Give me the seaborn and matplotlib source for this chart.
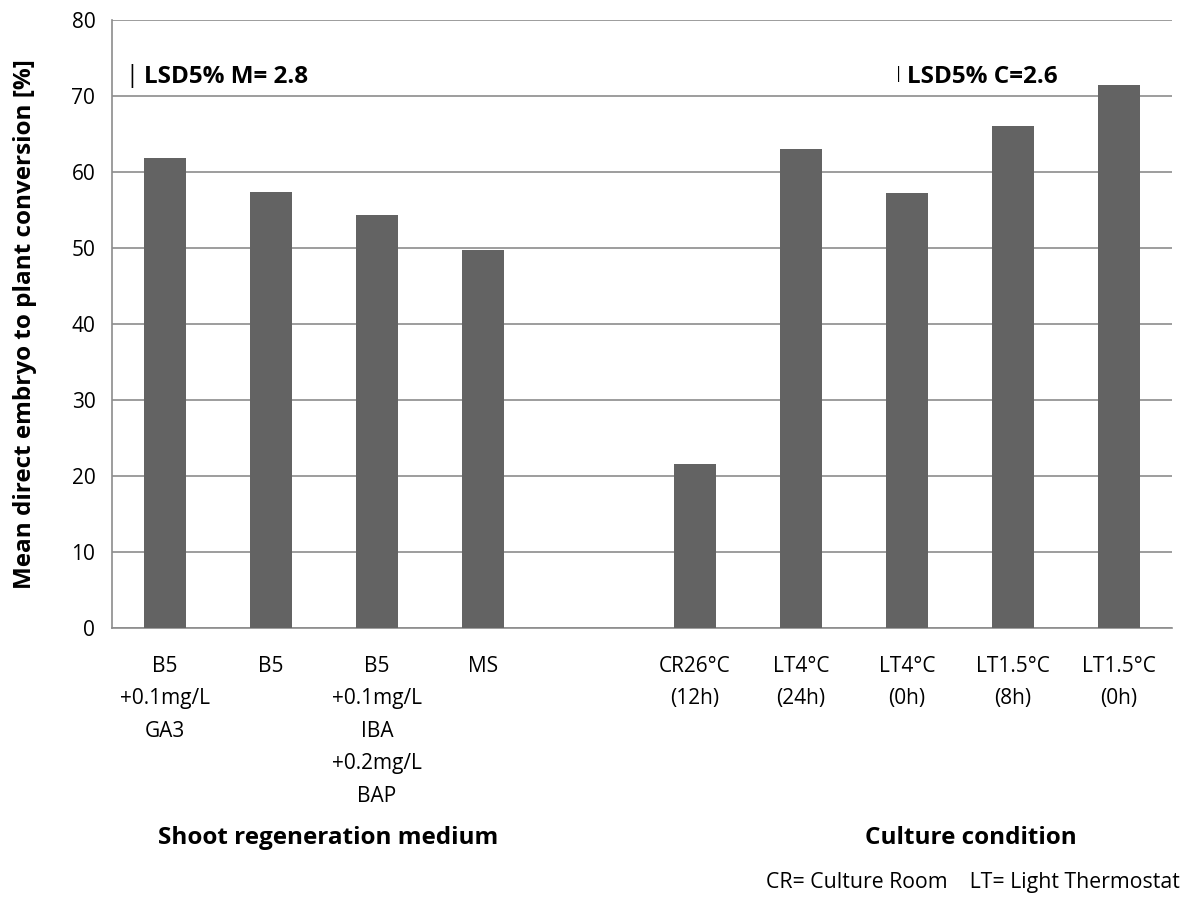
import matplotlib
matplotlib.use("Agg")
import matplotlib.pyplot as plt
import seaborn as sns
import pandas as pd

categories = ["B5\n+0.1mg/L\nGA3", "B5", "B5\n+0.1mg/L\nIBA\n+0.2mg/L\nBAP", "MS", " ",
              "CR26°C\n(12h)", "LT4°C\n(24h)", "LT4°C\n(0h)", "LT1.5°C\n(8h)", "LT1.5°C\n(0h)"]
values = [61.9, 57.4, 54.3, 49.7, None, 21.6, 63.0, 57.3, 66.0, 71.4]
y_ticks = [0, 10, 20, 30, 40, 50, 60, 70, 80]
lsd_labels = ["LSD5% M= 2.8", "LSD5% C=2.6"]
group_labels = ["Shoot regeneration medium", "Culture condition"]
footer = "CR= Culture Room    LT= Light Thermostat"

df = pd.DataFrame({"treatment": categories, "conversion": values})

sns.set_style("white")
plt.rcParams["font.family"] = ["Open Sans", "DejaVu Sans"]
plt.rcParams["text.color"] = "black"

fig = plt.figure(figsize=(11.92, 8.97), dpi=100)
ax = fig.add_axes([112 / 1192, 1 - 628 / 897, 1060 / 1192, 608 / 897])

sns.barplot(data=df, x="treatment", y="conversion", order=categories,
            color="#636363", saturation=1, width=0.40, linewidth=0, ax=ax, zorder=3)

ax.set_ylim(0, 80)
ax.set_xlim(-0.5, len(categories) - 0.5)
ax.set_yticks(y_ticks)
ax.tick_params(axis="y", labelsize=15, length=7, color="#8c8c8c", pad=5, labelcolor="black")
ax.tick_params(axis="x", labelsize=15, length=0, pad=20, labelcolor="black")
ax.yaxis.grid(True, color="#8c8c8c", linewidth=1.2, zorder=0)
ax.set_axisbelow(True)
for s in ["top", "right"]:
    ax.spines[s].set_visible(False)
for s in ["left", "bottom"]:
    ax.spines[s].set_color("#8c8c8c")
    ax.spines[s].set_linewidth(1.2)
for lab in ax.get_xticklabels():
    lab.set_linespacing(1.72)
    lab.set_verticalalignment("top")

ax.set_xlabel("")
ax.set_ylabel("Mean direct embryo to plant conversion [%]", fontsize=17.5,
              fontweight="bold", labelpad=25, color="black")

# LSD markers
ax.text(-0.31, 72.6, "|", fontsize=17, va="center", ha="center")
ax.text(-0.20, 72.5, lsd_labels[0], fontsize=17.5, fontweight="bold", va="center", ha="left")
ax.text(6.92, 72.9, "|", fontsize=12, va="center", ha="center")
ax.text(7.00, 72.5, lsd_labels[1], fontsize=17.5, fontweight="bold", va="center", ha="left")

fig.text(328 / 1192, 1 - 838 / 897, group_labels[0], fontsize=17.5, fontweight="bold",
         ha="center", va="center")
fig.text(971 / 1192, 1 - 838 / 897, group_labels[1], fontsize=17.5, fontweight="bold",
         ha="center", va="center")
fig.text(1180 / 1192, 1 - 882 / 897, footer, fontsize=15.3, ha="right", va="center")

fig.savefig("out.png", dpi=100)
